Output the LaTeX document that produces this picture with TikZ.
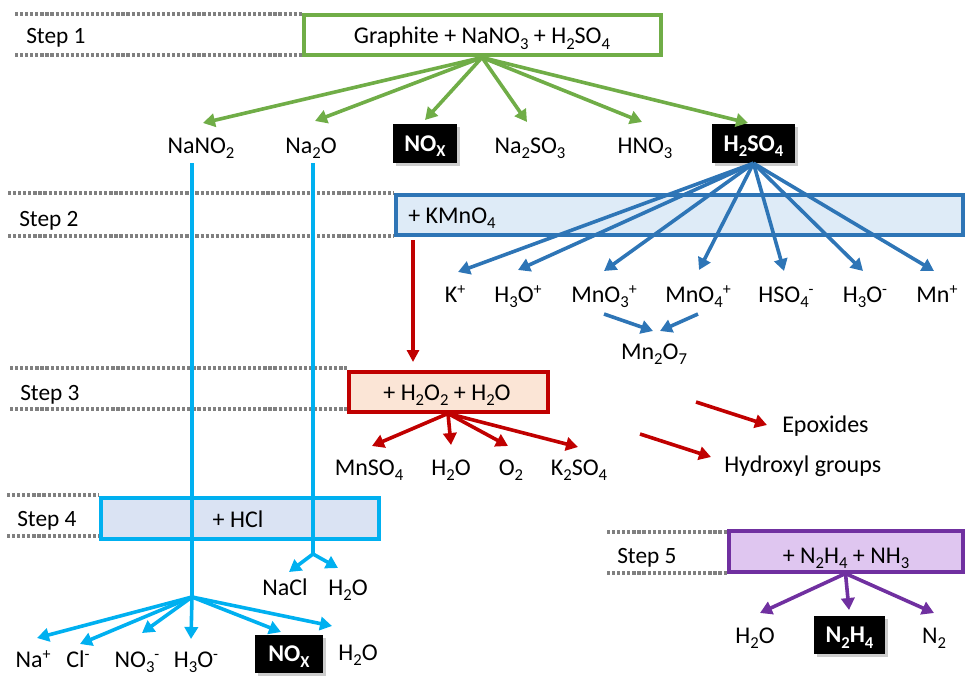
\documentclass[tikz,border=0pt]{standalone}
\usepackage{fontspec}
\setmainfont{Carlito}
\usetikzlibrary{arrows.meta,shadows}
\definecolor{cgreen}{HTML}{70AD47}
\definecolor{cblue}{HTML}{2E75B6}
\definecolor{cbluefill}{HTML}{DEEBF7}
\definecolor{cred}{HTML}{C00000}
\definecolor{credfill}{HTML}{FBE5D6}
\definecolor{ccyan}{HTML}{00B0F0}
\definecolor{ccyanfill}{HTML}{DAE3F3}
\definecolor{cpurple}{HTML}{7030A0}
\definecolor{cpurplefill}{HTML}{DFC6F0}
\definecolor{cgray}{HTML}{808080}
\newcommand\chsub[1]{\raisebox{-0.22em}{\fontsize{12.5}{12.5}\selectfont #1}}
\newcommand\chsup[1]{\raisebox{0.3em}{\fontsize{12}{12}\selectfont #1}}
\begin{document}
\begin{tikzpicture}[x=0.75pt,y=-0.75pt,
  lbl/.style={inner sep=0pt, font=\fontsize{18}{20}\selectfont, anchor=base},
  steplbl/.style={inner sep=0pt, font=\fontsize{17.5}{20}\selectfont, anchor=base west},
  dots/.style={draw=cgray, line width=2.6pt, dash pattern=on 2.4pt off 1.4pt},
  stepbox/.style={line width=3pt, inner sep=0pt},
  blackbox/.style={fill=black, text=white, font=\fontsize{18}{20}\selectfont\bfseries, inner sep=0pt, text height=11.6pt, text depth=0pt, drop shadow={shadow xshift=2pt, shadow yshift=-2pt, fill=black!40}},
  arr/.style={line width=2.7pt, -{Triangle[length=9pt,width=10pt]}},
]
\useasboundingbox (0,0) rectangle (966,681);

% step guide lines
\draw[dots] (15,14) -- (302,14);
\draw[dots] (15,55) -- (302,55);
\draw[dots] (8,193) -- (394,193);
\draw[dots] (8,236) -- (394,236);
\draw[dots] (10,368) -- (347,368);
\draw[dots] (10,409) -- (347,409);
\draw[dots] (7,495) -- (99,495);
\draw[dots] (7,536) -- (99,536);
\draw[dots] (607,532) -- (727,532);
\draw[dots] (607,573) -- (727,573);

% step labels
\node[steplbl] (s1) at (26,44) {Step 1};
\node[steplbl] (s2) at (19,226) {Step 2};
\node[steplbl] (s3) at (20,400) {Step 3};
\node[steplbl] (s4) at (17,526) {Step 4};
\node[steplbl] (s5) at (617,563) {Step 5};

% boxes
\node[stepbox, draw=cgreen, fill=white, minimum width=267.75pt, minimum height=30pt] (b1) at (482,35.5) {};
\node[stepbox, draw=cblue, fill=cbluefill, minimum width=425.25pt, minimum height=30pt] (b2) at (679,214.5) {};
\node[stepbox, draw=cred, fill=credfill, minimum width=149.25pt, minimum height=30pt] (b3) at (448,391.5) {};
\node[stepbox, draw=ccyan, fill=ccyanfill, minimum width=208.5pt, minimum height=30.75pt] (b4) at (239.5,518) {};
\node[stepbox, draw=cpurple, fill=cpurplefill, minimum width=175.5pt, minimum height=30.75pt] (b5) at (845.5,551) {};

\node[lbl] (b1t) at (482,44) {Graphite + NaNO\chsub{3} + H\chsub{2}SO\chsub{4}};
\node[lbl, anchor=base west] (b2t) at (408,223) {+ KMnO\chsub{4}};
\node[lbl] (b3t) at (447,400) {+ H\chsub{2}O\chsub{2} + H\chsub{2}O};
\node[lbl] (b4t) at (238,527) {+ HCl};
\node[lbl] (b5t) at (846,563) {+ N\chsub{2}H\chsub{4} + NH\chsub{3}};

% step 1 products
\node[lbl] (nano2) at (201,153) {NaNO\chsub{2}};
\node[lbl] (na2o) at (311,153) {Na\chsub{2}O};
\node[blackbox, minimum width=48pt, minimum height=29.25pt] (nox1) at (425,143.5) {NO\chsub{X}};
\node[lbl] (na2so3) at (530,153) {Na\chsub{2}SO\chsub{3}};
\node[lbl] (hno3) at (645,153) {HNO\chsub{3}};
\node[blackbox, minimum width=62.25pt, minimum height=29.25pt] (h2so4) at (753.5,143.5) {H\chsub{2}SO\chsub{4}};

% step 2 products
\node[lbl] (kp) at (455,302) {K\chsup{+}};
\node[lbl] (h3op) at (518,302) {H\chsub{3}O\chsup{+}};
\node[lbl] (mno3) at (604,302) {MnO\chsub{3}\chsup{+}};
\node[lbl] (mno4) at (698,302) {MnO\chsub{4}\chsup{+}};
\node[lbl] (hso4) at (786,302) {HSO\chsub{4}\chsup{-}};
\node[lbl] (h3om) at (865,302) {H\chsub{3}O\chsup{-}};
\node[lbl] (mnp) at (937,302) {Mn\chsup{+}};
\node[lbl] (mn2o7) at (654,359) {Mn\chsub{2}O\chsub{7}};

% step 3 products
\node[lbl] (mnso4) at (369,475) {MnSO\chsub{4}};
\node[lbl] (h2oa) at (451,475) {H\chsub{2}O};
\node[lbl] (o2) at (511,475) {O\chsub{2}};
\node[lbl] (k2so4) at (579,475) {K\chsub{2}SO\chsub{4}};
\node[lbl, anchor=base west] (epox) at (782,432) {Epoxides};
\node[lbl, anchor=base west] (hydrox) at (724,472) {Hydroxyl groups};

% step 4 products
\node[lbl] (nacl) at (285,595) {NaCl};
\node[lbl] (h2ob) at (348,595) {H\chsub{2}O};
\node[lbl] (nap) at (33,667) {Na\chsup{+}};
\node[lbl] (clm) at (78,667) {Cl\chsup{-}};
\node[lbl] (no3m) at (137,667) {NO\chsub{3}\chsup{-}};
\node[lbl] (h3omb) at (196,667) {H\chsub{3}O\chsup{-}};
\node[blackbox, minimum width=51pt, minimum height=28.5pt] (nox2) at (289,654) {NO\chsub{X}};
\node[lbl] (h2oc) at (358,660) {H\chsub{2}O};

% step 5 products
\node[lbl] (h2od) at (755,643) {H\chsub{2}O};
\node[blackbox, minimum width=53.25pt, minimum height=28.5pt] (n2h4) at (849.5,635) {N\chsub{2}H\chsub{4}};
\node[lbl] (n2) at (934,643) {N\chsub{2}};

% coordinates
\coordinate (gA) at (203,123); \coordinate (gB) at (315,121); \coordinate (gC) at (425,120);
\coordinate (gD) at (527,122); \coordinate (gE) at (642,122); \coordinate (gF) at (748,123);
\coordinate (uA) at (458,272); \coordinate (uB) at (518,270); \coordinate (uC) at (604,271);
\coordinate (uD) at (699,270); \coordinate (uE) at (784,271); \coordinate (uF) at (863,271);
\coordinate (uG) at (934,271);
\coordinate (m3) at (604,314); \coordinate (m4) at (698,314);
\coordinate (mA) at (653,331); \coordinate (mB) at (660,331);
\coordinate (rS) at (413,240); \coordinate (rE) at (413,362);
\coordinate (rA) at (372,446); \coordinate (rB) at (451,445); \coordinate (rC) at (508,446); \coordinate (rD) at (578,447);
\coordinate (eS) at (696,402); \coordinate (eE) at (767,425);
\coordinate (hS) at (640,434); \coordinate (hE) at (711,457);
\coordinate (pA) at (760,613); \coordinate (pB) at (849,610); \coordinate (pC) at (934,613);
\coordinate (c1) at (192,163); \coordinate (j1) at (192,597);
\coordinate (c2) at (313,163); \coordinate (j2) at (313,554);
\coordinate (cA) at (37,638); \coordinate (cB) at (80,644); \coordinate (cC) at (142,633);
\coordinate (cD) at (191,639); \coordinate (cE) at (281,632); \coordinate (cF) at (332,626);
\coordinate (cG) at (289,572); \coordinate (cH) at (338,568);

% green arrows
\foreach \t in {gA,gB,gC,gD,gE,gF} \draw[arr, cgreen] (b1.south) -- (\t);
% blue arrows
\foreach \t in {uA,uB,uC,uD,uE,uF,uG} \draw[arr, cblue] (h2so4.south) -- (\t);
\draw[arr, cblue] (m3) -- (mA);
\draw[arr, cblue] (m4) -- (mB);
% red arrows
\draw[cred, line width=2.3pt, -{Triangle[length=9pt,width=9pt]}] (rS) -- (rE);
\foreach \t in {rA,rB,rC,rD} \draw[arr, cred] (b3.south) -- (\t);
\draw[arr, cred] (eS) -- (eE);
\draw[arr, cred] (hS) -- (hE);
% purple arrows
\foreach \t in {pA,pB,pC} \draw[arr, cpurple] (b5.south) -- (\t);
% cyan lines
\draw[ccyan, line width=3pt] (c1) -- (j1);
\draw[ccyan, line width=3pt] (c2) -- (j2);
\foreach \t in {cA,cB,cC,cD,cE,cF} \draw[arr, ccyan] (j1) -- (\t);
\foreach \t in {cG,cH} \draw[arr, ccyan] (j2) -- (\t);
\end{tikzpicture}
\end{document}
